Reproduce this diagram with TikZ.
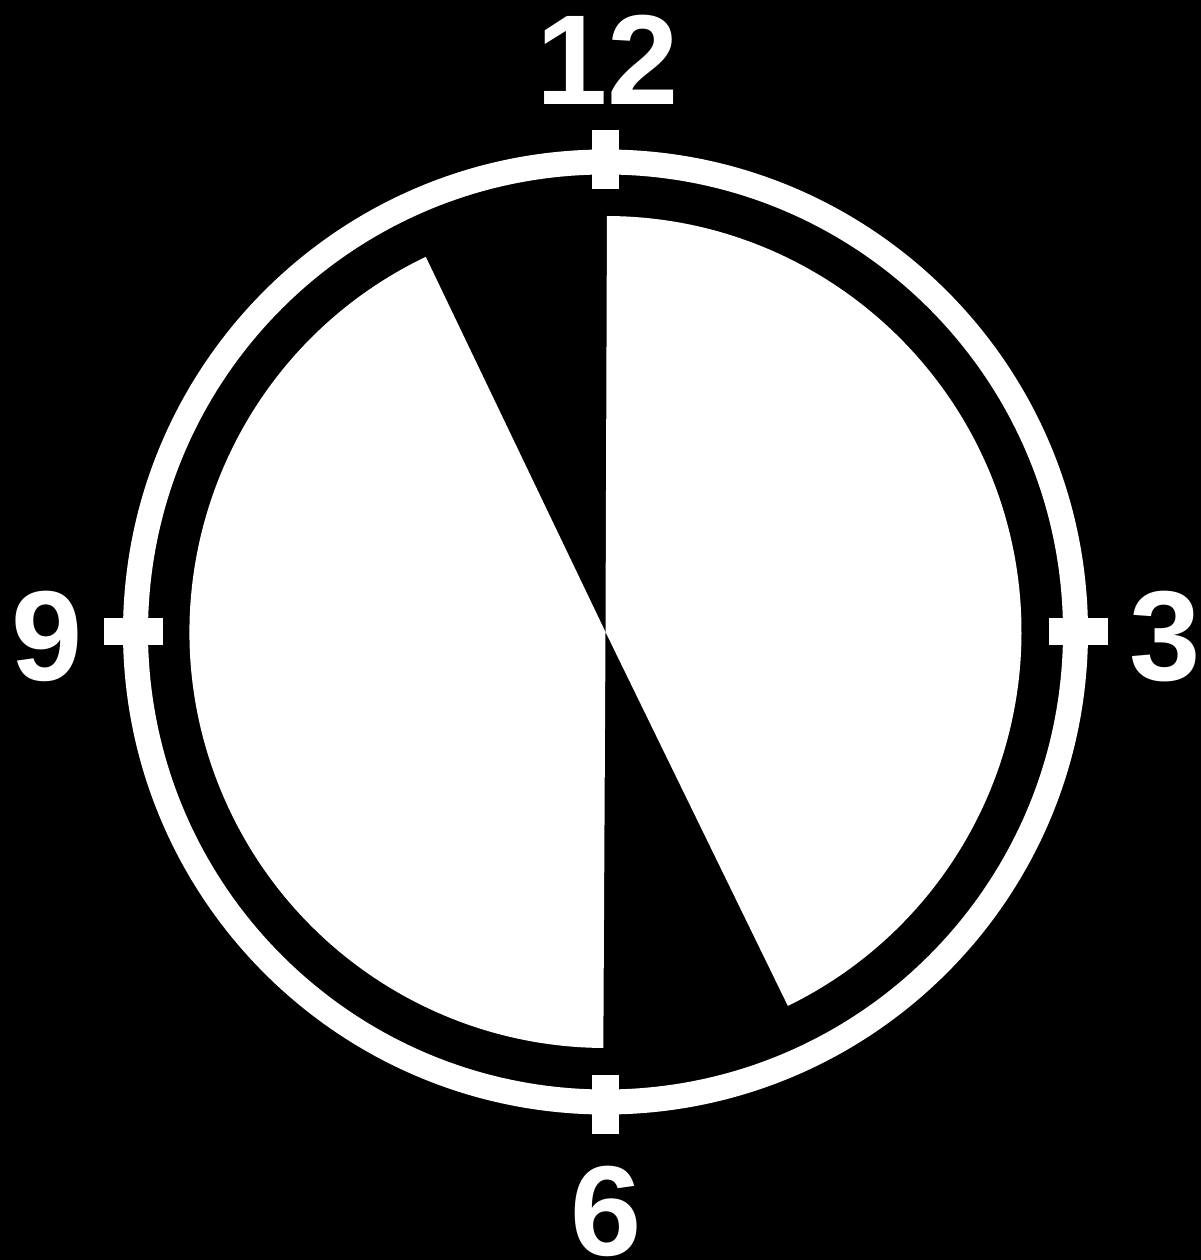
\documentclass[tikz,border=0pt]{standalone}
\usepackage{fontspec}
\setmainfont{Liberation Sans}
\usetikzlibrary{calc}
\begin{document}
\begin{tikzpicture}[x=1pt,y=1pt,
  lbl/.style={text=white,font=\fontsize{128}{140}\selectfont\bfseries,inner sep=0pt,anchor=base},
  tick/.style={fill=white,draw=none},
  sector/.style={fill=white,draw=none}]
\fill[black] (0,0) rectangle (1201,1260);
\useasboundingbox (0,0) rectangle (1201,1260);
\coordinate (c) at (605.5,628);
% ring
\draw[white,line width=25pt] (c) circle[radius=470];
% white sectors
\fill[sector] (c) -- ++(89.8:416) arc[start angle=89.8,end angle=-64,radius=416] -- cycle;
\fill[sector] (c) -- ++(115.6:416) arc[start angle=115.6,end angle=269.7,radius=416] -- cycle;
% ticks
\node[tick,minimum width=27pt,minimum height=59pt,inner sep=0pt] (t12) at ($(c)+(0,472.5)$) {};
\node[tick,minimum width=27pt,minimum height=59pt,inner sep=0pt] (t6) at ($(c)+(0,-472.5)$) {};
\node[tick,minimum width=59pt,minimum height=27pt,inner sep=0pt] (t3) at ($(c)+(472.5,0)$) {};
\node[tick,minimum width=59pt,minimum height=27pt,inner sep=0pt] (t9) at ($(c)+(-472.5,0)$) {};
% labels
\node[lbl] (l12) at (608,1155) {12};
\node[lbl] (l3) at (1165,579) {3};
\node[lbl] (l6) at (606,5) {6};
\node[lbl] (l9) at (47,579) {9};
\end{tikzpicture}
\end{document}
